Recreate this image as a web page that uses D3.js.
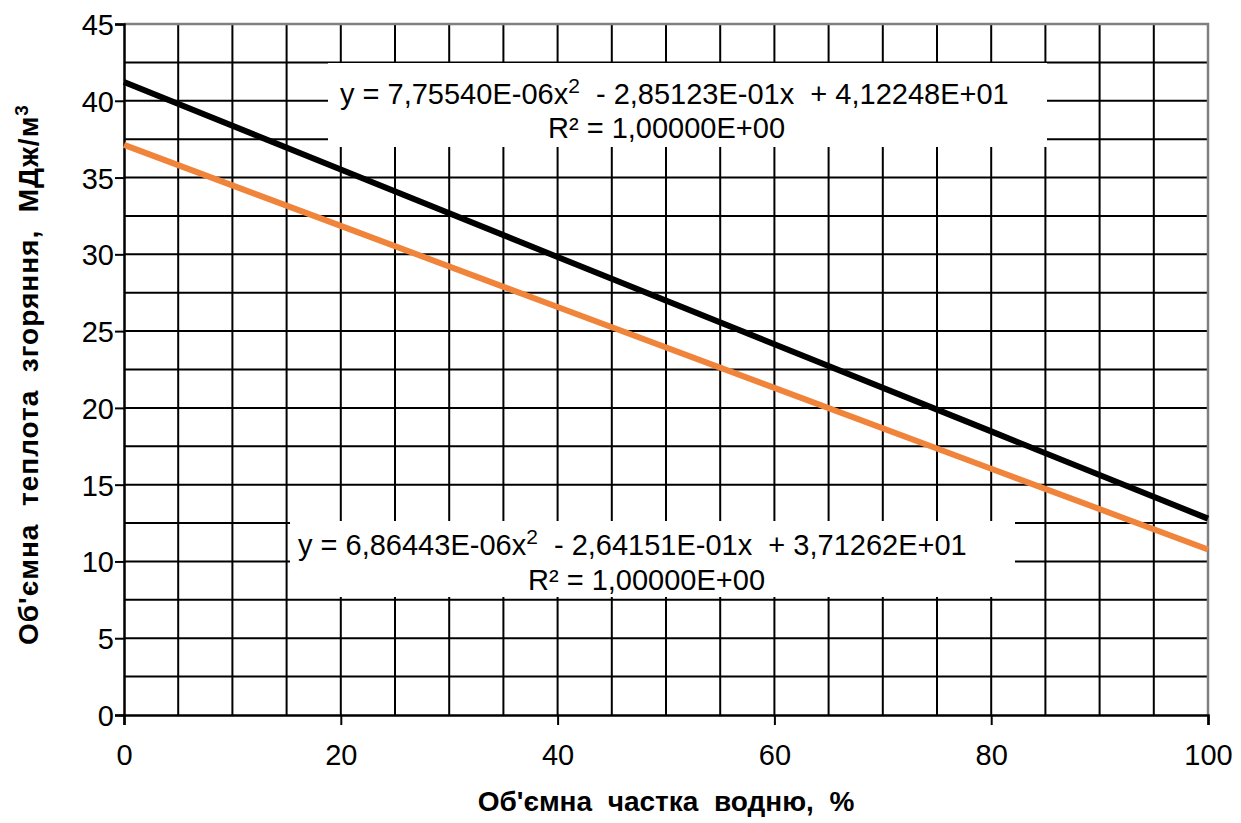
<!DOCTYPE html>
<html>
<head>
<meta charset="utf-8">
<script src="https://cdn.jsdelivr.net/npm/d3@7"></script>
<style>
  body { margin: 0; background: #fff; }
  svg { display: block; font-family: "Liberation Sans", Arial, sans-serif; }
  .tick text { font-size: 29px; fill: #000; }
  .axis-title { font-size: 28px; font-weight: bold; }
  .eq { font-size: 29px; }
</style>
</head>
<body>
<script>
// values
const waterShare = [0, 20, 40, 60, 80, 100];
const heatUpper = [41.22, 35.53, 29.83, 24.15, 18.47, 12.79];
const heatLower = [37.13, 31.85, 26.57, 21.30, 16.04, 10.78];
const xTicks = [0, 20, 40, 60, 80, 100];
const yTicks = [0, 5, 10, 15, 20, 25, 30, 35, 40, 45];
const upperEq = ["y = 7,75540E-06x", "2", "  - 2,85123E-01x  + 4,12248E+01"];
const lowerEq = ["y = 6,86443E-06x", "2", "  - 2,64151E-01x  + 3,71262E+01"];
const r2Text = "R² = 1,00000E+00";

const W = 1241, H = 823;
const margin = { top: 24, right: 33, bottom: 108, left: 124 };
const width = W - margin.left - margin.right;
const height = H - margin.top - margin.bottom;

const svg = d3.select("body").append("svg")
    .attr("width", W)
    .attr("height", H);

const x = d3.scaleLinear().domain([0, 100]).range([0, width]);
const y = d3.scaleLinear().domain([0, 45]).range([height, 0]);

const main = svg.append("g")
    .attr("transform", `translate(${margin.left},${margin.top})`);

// grid
main.append("g")
    .selectAll("line")
    .data(d3.range(5, 100, 5))
    .join("line")
    .attr("x1", d => x(d)).attr("x2", d => x(d))
    .attr("y1", 0).attr("y2", height)
    .attr("stroke", "#000").attr("stroke-width", 2);

main.append("g")
    .selectAll("line")
    .data(d3.range(2.5, 45, 2.5))
    .join("line")
    .attr("x1", 0).attr("x2", width)
    .attr("y1", d => y(d)).attr("y2", d => y(d))
    .attr("stroke", "#000").attr("stroke-width", 2);

// plot border (top / right)
main.append("path")
    .attr("d", `M0,0H${width}V${height}`)
    .attr("fill", "none")
    .attr("stroke", "#808080")
    .attr("stroke-width", 2.5);

// axes
const yAxis = main.append("g")
    .call(d3.axisLeft(y).tickValues(yTicks).tickSize(9).tickPadding(1).tickFormat(d3.format("d")));
const xAxis = main.append("g")
    .attr("transform", `translate(0,${height})`)
    .call(d3.axisBottom(x).tickValues(xTicks).tickSize(10).tickPadding(19).tickFormat(d3.format("d")));

[yAxis, xAxis].forEach(a => {
    a.select(".domain").attr("stroke", "#000").attr("stroke-width", 2.5);
    a.selectAll(".tick line").attr("stroke", "#000").attr("stroke-width", 2);
    a.attr("font-family", null).attr("font-size", null);
});
yAxis.selectAll(".tick text").attr("dy", "0.36em");

// lines
const line = d3.line()
    .x((d, i) => x(waterShare[i]))
    .y(d => y(d));

main.append("path")
    .datum(heatLower)
    .attr("d", line)
    .attr("fill", "none")
    .attr("stroke", "#f0843a")
    .attr("stroke-width", 6);

main.append("path")
    .datum(heatUpper)
    .attr("d", line)
    .attr("fill", "none")
    .attr("stroke", "#000")
    .attr("stroke-width", 6);

// trendline labels
function eqLabel(parts, box, x1, y1, x2, y2) {
    const g = svg.append("g");
    g.append("rect")
        .attr("x", box[0]).attr("y", box[1])
        .attr("width", box[2]).attr("height", box[3])
        .attr("fill", "#fff");
    const t = g.append("text")
        .attr("class", "eq")
        .attr("x", x1).attr("y", y1)
        .attr("xml:space", "preserve");
    t.append("tspan").text(parts[0]);
    t.append("tspan").attr("dy", -11).attr("font-size", 21).text(parts[1]);
    t.append("tspan").attr("dy", 11).text(parts[2]);
    g.append("text")
        .attr("class", "eq")
        .attr("x", x2).attr("y", y2)
        .text(r2Text);
}

eqLabel(upperEq, [328, 63, 719, 84], 340, 104, 548, 138);
eqLabel(lowerEq, [290, 521, 725, 76], 298, 555, 528, 590);

// axis titles
svg.append("text")
    .attr("class", "axis-title")
    .attr("x", margin.left + width / 2)
    .attr("y", 811)
    .attr("text-anchor", "middle")
    .attr("xml:space", "preserve")
    .text("Об'ємна  частка  водню,  %");

const yt = svg.append("text")
    .attr("class", "axis-title")
    .attr("transform", `translate(38,${margin.top + height / 2 + 5}) rotate(-90)`)
    .attr("text-anchor", "middle")
    .attr("font-size", 29)
    .attr("letter-spacing", 1)
    .attr("xml:space", "preserve");
yt.append("tspan").text("Об'ємна  теплота  згоряння,  МДж/м");
yt.append("tspan").attr("dy", -10).attr("font-size", 19).text("3");
</script>
</body>
</html>
